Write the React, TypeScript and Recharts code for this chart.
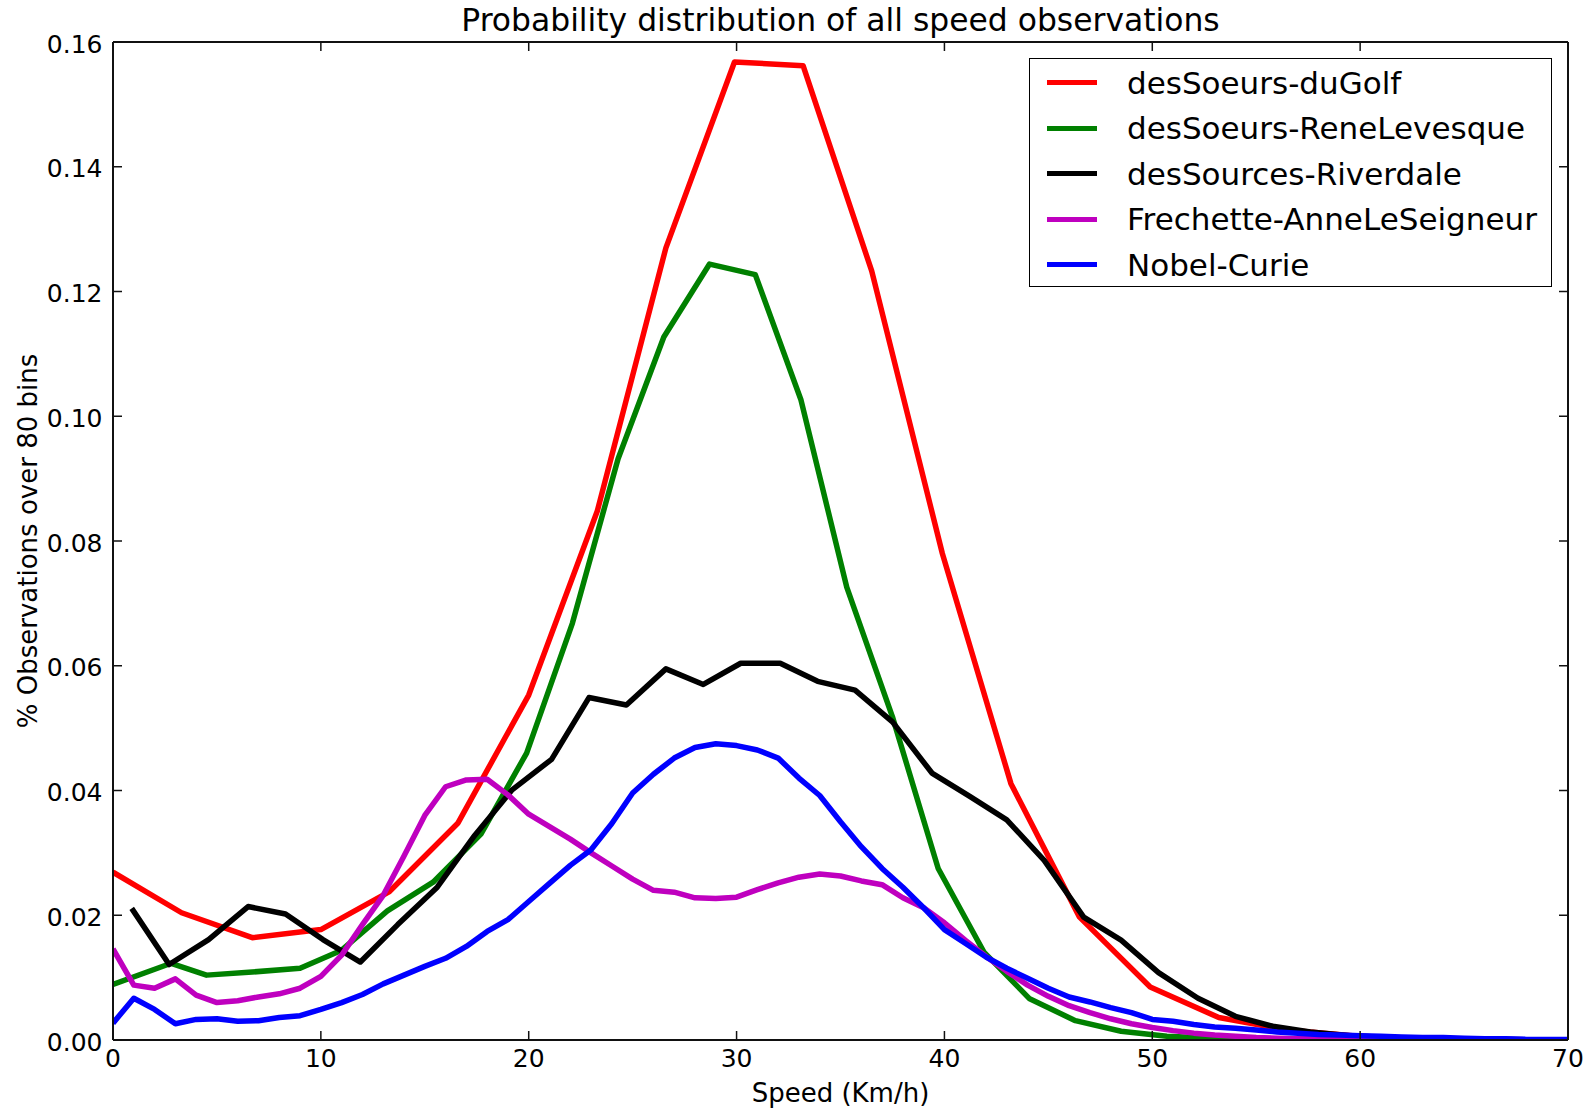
import React from 'react';
import { LineChart, Line, XAxis, YAxis, Legend, Label } from 'recharts';

const FONT = 'DejaVu Sans';

const titleText = 'Probability distribution of all speed observations';
const xLabelText = 'Speed (Km/h)';
const yLabelText = '% Observations over 80 bins';

const xTicks = [0, 10, 20, 30, 40, 50, 60, 70];
const xTickLabels = ['0', '10', '20', '30', '40', '50', '60', '70'];
const yTicks = [0, 0.02, 0.04, 0.06, 0.08, 0.1, 0.12, 0.14, 0.16];
const yTickLabels = ['0.00', '0.02', '0.04', '0.06', '0.08', '0.10', '0.12', '0.14', '0.16'];

const seriesNames = [
  'desSoeurs-duGolf',
  'desSoeurs-ReneLevesque',
  'desSources-Riverdale',
  'Frechette-AnneLeSeigneur',
  'Nobel-Curie',
];
const seriesColors = ['#ff0000', '#008000', '#000000', '#bf00bf', '#0000ff'];

const golfX = [0, 3.3, 6.7, 10.0, 13.3, 16.6, 20.0, 23.3, 26.6, 29.9, 33.2, 36.5, 39.9, 43.2, 46.5, 49.9, 53.2, 56.5, 59.9, 63.2, 66.5, 69.8];
const golfY = [0.0269, 0.0204, 0.0164, 0.0177, 0.0238, 0.0348, 0.0553, 0.0848, 0.127, 0.1568, 0.1562, 0.1233, 0.078, 0.0411, 0.0197, 0.0085, 0.0036, 0.0016, 0.0006, 0.0002, 0.0001, 0.0];

const reneX = [0, 2.8, 4.5, 6.7, 9.0, 11.0, 13.2, 15.4, 17.7, 19.9, 22.1, 24.3, 26.5, 28.7, 30.9, 33.1, 35.3, 37.5, 39.7, 41.9, 44.1, 46.3, 48.5, 50.7, 52.9, 55.1, 57.3, 59.5, 61.7, 63.9, 66.1, 68.3, 70];
const reneY = [0.0089, 0.0123, 0.0104, 0.0109, 0.0115, 0.0144, 0.0207, 0.0253, 0.033, 0.046, 0.0668, 0.0932, 0.1127, 0.1244, 0.1227, 0.1026, 0.0726, 0.0518, 0.0275, 0.0141, 0.0066, 0.0031, 0.0014, 0.0006, 0.0003, 0.0001, 0.0001, 0, 0, 0, 0, 0, 0];

const riverX = [0.9, 2.7, 4.6, 6.5, 8.3, 10.1, 11.9, 13.7, 15.6, 17.4, 19.2, 21.1, 22.9, 24.7, 26.6, 28.4, 30.2, 32.1, 33.9, 35.7, 37.5, 39.4, 41.2, 43.0, 44.8, 46.7, 48.5, 50.3, 52.2, 54.0, 55.8, 57.6, 59.5, 61.3, 63.1, 64.9, 66.8, 68.6, 70];
const riverY = [0.0211, 0.0121, 0.0161, 0.0214, 0.0202, 0.0161, 0.0125, 0.0185, 0.0245, 0.0328, 0.0401, 0.045, 0.0549, 0.0537, 0.0595, 0.057, 0.0604, 0.0604, 0.0575, 0.0561, 0.051, 0.0428, 0.0391, 0.0353, 0.0288, 0.0197, 0.016, 0.0108, 0.0067, 0.0038, 0.0022, 0.0013, 0.0007, 0.0004, 0.0002, 0.0001, 0.0001, 0.0, 0.0];

const frechX = [0, 1, 2, 3, 4, 5, 6, 7, 8, 9, 10, 11, 12, 13, 14, 15, 16, 17, 18, 19, 20, 21, 22, 23, 24, 25, 26, 27, 28, 29, 30, 31, 32, 33, 34, 35, 36, 37, 38, 39, 40, 41, 42, 43, 44, 45, 46, 47, 48, 49, 50, 51, 52, 53, 54, 55, 56, 57, 58, 59, 60, 62, 64, 66, 68, 70];
const frechY = [0.0146, 0.0088, 0.0083, 0.0098, 0.0072, 0.006, 0.0063, 0.0069, 0.0074, 0.0083, 0.0102, 0.0136, 0.0185, 0.0232, 0.0295, 0.036, 0.0406, 0.0417, 0.0418, 0.0393, 0.0362, 0.0342, 0.0322, 0.03, 0.0279, 0.0258, 0.024, 0.0237, 0.0228, 0.0227, 0.0229, 0.0241, 0.0252, 0.0261, 0.0266, 0.0263, 0.0255, 0.0249, 0.0228, 0.0212, 0.0188, 0.016, 0.0134, 0.011, 0.0088, 0.007, 0.0055, 0.0044, 0.0034, 0.0026, 0.002, 0.0015, 0.0011, 0.0008, 0.0006, 0.0004, 0.0003, 0.0002, 0.0002, 0.0001, 0.0001, 0.0001, 0.0, 0.0, 0.0, 0.0];

const nobelX = [0, 1, 2, 3, 4, 5, 6, 7, 8, 9, 10, 11, 12, 13, 14, 15, 16, 17, 18, 19, 20, 21, 22, 23, 24, 25, 26, 27, 28, 29, 30, 31, 32, 33, 34, 35, 36, 37, 38, 39, 40, 41, 42, 43, 44, 45, 46, 47, 48, 49, 50, 51, 52, 53, 54, 55, 56, 57, 58, 59, 60, 61, 62, 63, 64, 65, 66, 67, 68, 69, 70];
const nobelY = [0.0027, 0.0067, 0.0049, 0.0026, 0.0033, 0.0034, 0.003, 0.0031, 0.0036, 0.0039, 0.0049, 0.006, 0.0073, 0.009, 0.0104, 0.0118, 0.0131, 0.015, 0.0174, 0.0193, 0.0222, 0.0251, 0.028, 0.0305, 0.0347, 0.0396, 0.0426, 0.0452, 0.0469, 0.0475, 0.0472, 0.0465, 0.0452, 0.042, 0.0392, 0.035, 0.031, 0.0275, 0.0245, 0.0212, 0.0177, 0.0155, 0.0133, 0.0115, 0.0099, 0.0083, 0.0069, 0.0061, 0.0052, 0.0044, 0.0033, 0.003, 0.0025, 0.0021, 0.0019, 0.0016, 0.0013, 0.0011, 0.0009, 0.0008, 0.0007, 0.0006, 0.0005, 0.0004, 0.0004, 0.0003, 0.0002, 0.0002, 0.0001, 0.0001, 0.0001];

const seriesX = [golfX, reneX, riverX, frechX, nobelX];
const seriesY = [golfY, reneY, riverY, frechY, nobelY];

const series = seriesNames.map((name, i) => ({
  name,
  color: seriesColors[i],
  data: seriesX[i].map((x, j) => ({ x, y: seriesY[i][j] })),
}));

const TICK_LEN = 9;
const FRAME = '#111';

const BottomTick = (p: any) => (
  <g>
    <line x1={p.x} x2={p.x} y1={p.y} y2={p.y - TICK_LEN} stroke={FRAME} strokeWidth={1.5} />
    <text x={p.x} y={p.y + 27} textAnchor="middle" fontSize={25} fontFamily={FONT} fill="#000">
      {xTickLabels[xTicks.indexOf(p.payload.value)]}
    </text>
  </g>
);

const TopTick = (p: any) => (
  <line x1={p.x} x2={p.x} y1={p.y} y2={p.y + TICK_LEN} stroke={FRAME} strokeWidth={1.5} />
);

const LeftTick = (p: any) => (
  <g>
    <line x1={p.x} x2={p.x + TICK_LEN} y1={p.y} y2={p.y} stroke={FRAME} strokeWidth={1.5} />
    <text x={p.x - 10.5} y={p.y + 10.5} textAnchor="end" fontSize={25} fontFamily={FONT} fill="#000">
      {yTickLabels[yTicks.indexOf(p.payload.value)]}
    </text>
  </g>
);

const RightTick = (p: any) => (
  <line x1={p.x} x2={p.x - TICK_LEN} y1={p.y} y2={p.y} stroke={FRAME} strokeWidth={1.5} />
);

const renderLegend = () => (
  <div
    style={{
      boxSizing: 'border-box',
      width: 523,
      height: 229,
      border: '1.5px solid #000',
      background: '#fff',
      paddingTop: 1,
    }}
  >
    {series.map((s) => (
      <div key={s.name} style={{ height: 45.5, display: 'flex', alignItems: 'center' }}>
        <div style={{ marginLeft: 17, width: 50, height: 5, background: s.color }} />
        <span
          style={{
            marginLeft: 30,
            fontSize: 31,
            fontFamily: FONT,
            color: '#000',
            whiteSpace: 'nowrap',
            lineHeight: '40px',
          }}
        >
          {s.name}
        </span>
      </div>
    ))}
  </div>
);

const axisLine = { stroke: FRAME, strokeWidth: 2 };

export default function App() {
  return (
    <div style={{ position: 'absolute', left: 0, top: 0, width: 1590, height: 1111, background: '#fff' }}>
      <LineChart width={1590} height={1111} margin={{ top: 41, right: 21, bottom: 31, left: 53 }}>
        <XAxis
          xAxisId="b"
          type="number"
          dataKey="x"
          domain={[0, 70]}
          ticks={xTicks}
          interval={0}
          allowDataOverflow
          orientation="bottom"
          height={40}
          tickSize={0}
          tickMargin={0}
          tickLine={false}
          axisLine={axisLine}
          tick={(p: any) => <BottomTick {...p} />}
        >
          <Label value={xLabelText} position="bottom" offset={4} fontSize={26} fontFamily={FONT} fill="#000" />
        </XAxis>
        <XAxis
          xAxisId="t"
          type="number"
          dataKey="x"
          domain={[0, 70]}
          ticks={xTicks}
          interval={0}
          allowDataOverflow
          orientation="top"
          height={1}
          tickSize={0}
          tickMargin={0}
          tickLine={false}
          axisLine={axisLine}
          tick={(p: any) => <TopTick {...p} />}
        >
          <Label value={titleText} position="top" offset={10} fontSize={31.4} fontFamily={FONT} fill="#000" />
        </XAxis>
        <YAxis
          yAxisId="l"
          type="number"
          domain={[0, 0.16]}
          ticks={yTicks}
          interval={0}
          allowDataOverflow
          orientation="left"
          width={60}
          tickSize={0}
          tickMargin={0}
          tickLine={false}
          axisLine={axisLine}
          tick={(p: any) => <LeftTick {...p} />}
        >
          <Label
            value={yLabelText}
            angle={-90}
            position="insideLeft"
            offset={-25}
            fontSize={26}
            fontFamily={FONT}
            fill="#000"
            style={{ textAnchor: 'middle' }}
          />
        </YAxis>
        <YAxis
          yAxisId="r"
          type="number"
          domain={[0, 0.16]}
          ticks={yTicks}
          interval={0}
          allowDataOverflow
          orientation="right"
          width={1}
          tickSize={0}
          tickMargin={0}
          tickLine={false}
          axisLine={axisLine}
          tick={(p: any) => <RightTick {...p} />}
        />
        {series.map((s) => (
          <Line
            key={s.name}
            xAxisId="b"
            yAxisId="l"
            data={s.data}
            dataKey="y"
            name={s.name}
            type="linear"
            stroke={s.color}
            strokeWidth={5.5}
            strokeLinejoin="round"
            dot={false}
            activeDot={false}
            isAnimationActive={false}
          />
        ))}
        <Legend
          layout="vertical"
          align="center"
          verticalAlign="middle"
          width={523}
          height={229}
          wrapperStyle={{ top: 58, left: 1029, width: 523, height: 229 }}
          content={renderLegend}
        />
      </LineChart>
    </div>
  );
}
